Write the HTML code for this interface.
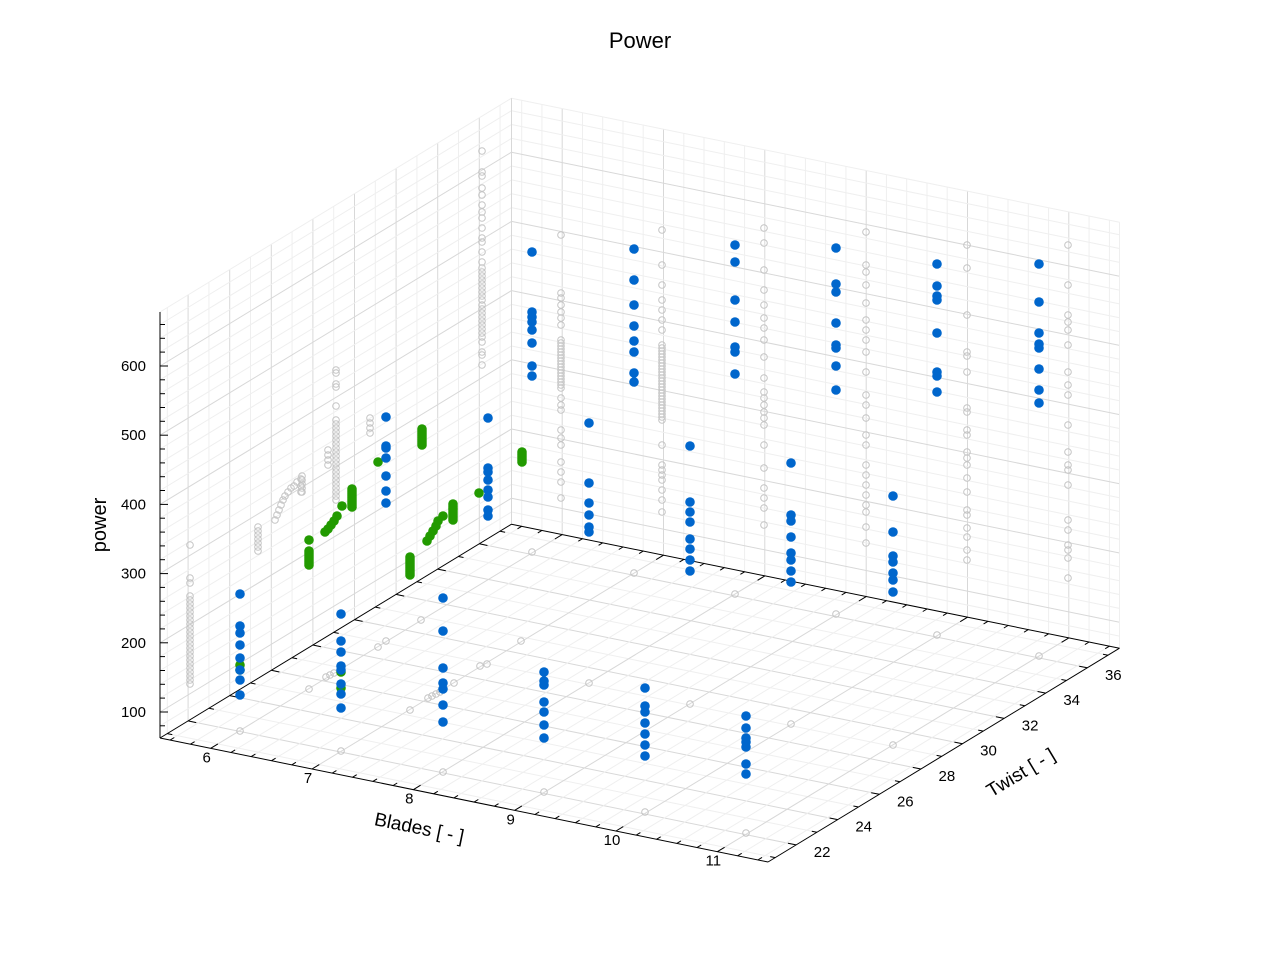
<!DOCTYPE html>
<html><head><meta charset="utf-8"><style>
html,body{margin:0;padding:0;background:#fff;}
svg{display:block;font-family:"Liberation Sans","DejaVu Sans",sans-serif;}
</style></head><body>
<svg id="s" width="1280" height="960" xmlns="http://www.w3.org/2000/svg">
<text x="640" y="48" font-size="22" text-anchor="middle" fill="#000">Power</text>
<text x="0" y="0" font-size="20" text-anchor="middle" transform="translate(106,525) rotate(-90)">power</text>
<text x="0" y="0" font-size="19" text-anchor="middle" transform="translate(418,834) rotate(11.5)">Blades [ - ]</text>
<text x="0" y="0" font-size="19" text-anchor="middle" transform="translate(1024,778) rotate(-31)">Twist [ - ]</text>
<g id="g"></g>
</svg>
<script>
var g=document.getElementById('g');
var b0=5.5,b1=11.5,t0=20.65,t1=37.55,p0=62.4,p1=678;
function P(b,t,p){return[160+(b-b0)*101.33+(t-t0)*20.8,738+(b-b0)*20.67-(t-t0)*12.65-(p-p0)*0.692];}
var out='';
function L(a,c,col,w){out+='<line x1="'+a[0].toFixed(1)+'" y1="'+a[1].toFixed(1)+'" x2="'+c[0].toFixed(1)+'" y2="'+c[1].toFixed(1)+'" stroke="'+col+'" stroke-width="'+(w||1)+'"/>';}
var mi='#efefef',ma='#d8d8d8';
var BL=[];for(var i=1;i<=30;i++){BL.push(Math.round((5.4+i*0.2)*10)/10);}
function isInt(b){return Math.abs(b-Math.round(b))<0.01;}
for(var t=21;t<=37;t++)L(P(b0,t,p0),P(b1,t,p0),t%2==0?ma:mi);
BL.forEach(function(b){L(P(b,t0,p0),P(b,t1,p0),isInt(b)?ma:mi);});
BL.forEach(function(b){L(P(b,t1,p0),P(b,t1,p1),isInt(b)?ma:mi);});
for(var p=80;p<=p1;p+=20)L(P(b0,t1,p),P(b1,t1,p),p%100==0?ma:mi);
L(P(b0,t1,p1),P(b1,t1,p1),mi);L(P(b1,t1,p0),P(b1,t1,p1),mi);
for(var t=21;t<=37;t++)L(P(b0,t,p0),P(b0,t,p1),t%2==0?ma:mi);
for(var p=80;p<=p1;p+=20)L(P(b0,t0,p),P(b0,t1,p),p%100==0?ma:mi);
L(P(b0,t0,p1),P(b0,t1,p1),mi);L(P(b0,t1,p0),P(b0,t1,p1),ma);
L(P(b0,t0,p0),P(b1,t0,p0),'#000');L(P(b1,t0,p0),P(b1,t1,p0),'#000');
L(P(b0,t0,p0),P(b0,t1,p0),'#000');L(P(b0,t1,p0),P(b1,t1,p0),'#000');
L(P(b0,t0,p0),P(b0,t0,p1),'#000');
for(var p=80;p<=p1;p+=20){var a=P(b0,t0,p);var len=p%100==0?8:5;L(a,[a[0]+len,a[1]],'#000');
 if(p%100==0)out+='<text x="146" y="'+(a[1]+5).toFixed(1)+'" font-size="15" text-anchor="end">'+p+'</text>';}
BL.forEach(function(b){var a=P(b,t0,p0);var mj=isInt(b);var k=mj?0.35:0.2;var c=P(b,t0+k,p0);L(a,c,'#000');
 if(mj)out+='<text x="'+(a[0]-4).toFixed(1)+'" y="'+(a[1]+14).toFixed(1)+'" font-size="15" text-anchor="middle">'+Math.round(b)+'</text>';
 var a2=P(b,t1,p0),c2=P(b,t1-k,p0);L(a2,c2,'#000');});
for(var t=21;t<=37;t++){var a=P(b1,t,p0);var mj=t%2==0;var c=P(b1-(mj?0.08:0.05),t,p0);L(a,c,'#000');
 if(mj)out+='<text x="'+(a[0]+26).toFixed(1)+'" y="'+(a[1]+12).toFixed(1)+'" font-size="15" text-anchor="middle">'+t+'</text>';
 var a2=P(b0,t,p0),c2=P(b0+(mj?0.08:0.05),t,p0);L(a2,c2,'#000');}
function gc(x,y){out+='<circle cx="'+x+'" cy="'+y+'" r="3.3" fill="none" stroke="#c4c4c4" stroke-width="1"/>';}
function col(x,ys){ys.forEach(function(y){gc(x,y);});}
function dense(x,a,b,s){for(var y=a;y<=b;y+=s)gc(x,y);}
col(190,[545,578,583]);dense(190,596,685,4);
dense(258,527,553,4);
[[275,520],[277,515],[279,510],[281,505],[283,500],[285,496],[288,492],[291,488],[294,486],[297,482],[301,479],[301,486],[301,492]].forEach(function(q){gc(q[0],q[1]);});
dense(302,476,495,4);dense(328,450,467,5);
col(336,[370,373,384,387,406]);dense(336,420,500,4);
dense(370,418,437,5);
col(482,[151,172,176,188,195,205,212,218,228,238,242,252,262,268]);dense(482,272,300,4);dense(482,305,340,4);col(482,[342,352,355,365]);
col(561,[235,293,298,305,312,318,325,398,405,410,430,438,445,462,472,482,498]);dense(561,340,390,3);
col(662,[230,265,285,300,310,320,330,445,465,470,475,480,490,500,512]);dense(662,345,420,3);
col(764,[228,243,270,290,305,318,328,340,357,378,392,398,405,412,418,425,445,468,488,498,508,525]);
col(866,[232,265,272,285,303,320,330,340,352,372,395,405,418,435,445,465,475,485,495,505,512,527,543]);
col(967,[245,268,315,352,356,372,408,412,430,435,452,458,465,478,492,510,515,528,537,550,560]);
col(1068,[245,285,315,322,330,345,372,385,395,425,452,465,470,485,520,530,545,550,558,578]);
[[532,552],[634,573],[735,594],[836,614],[937,635],[1039,656],[240,731],[341,751],[443,772],[544,792],[645,812],[746,833],[309,689],[410,710],[589,683],[690,704],[791,724],[893,745],[326,677],[330,675],[334,673],[378,647],[386,641],[421,620],[428,698],[432,696],[436,694],[440,692],[454,683],[480,666],[487,664],[521,641]].forEach(function(q){gc(q[0],q[1]);});
function fc(x,y,c){out+='<circle cx="'+x+'" cy="'+y+'" r="4.8" fill="'+c+'"/>';}
var G='#229a00',B='#0066cc';
function gcol(x,a,b){for(var y=a;y<=b;y+=2)fc(x,y,G);}
fc(240,665,G);fc(240,670,G);fc(341,672,G);fc(341,688,G);
fc(309,540,G);gcol(309,551,565);[[325,532],[328,529],[331,525],[334,521],[337,516]].forEach(function(q){fc(q[0],q[1],G);});
fc(342,506,G);gcol(352,489,507);fc(378,462,G);gcol(422,429,446);
gcol(410,557,575);[[427,541],[430,536],[433,531],[436,526],[438,521]].forEach(function(q){fc(q[0],q[1],G);});
fc(443,516,G);gcol(453,504,521);fc(479,493,G);gcol(522,452,462);
function bcol(x,ys){ys.forEach(function(y){fc(x,y,B);});}
bcol(240,[594,626,633,645,658,670,680,695]);
bcol(341,[614,641,652,666,670,684,694,708]);
bcol(443,[598,631,668,683,689,705,722]);
bcol(544,[672,681,685,702,712,725,738]);
bcol(645,[688,706,712,723,734,745,756]);
bcol(746,[716,728,738,742,747,764,774]);
bcol(386,[417,446,448,458,476,491,503]);
bcol(488,[418,468,472,480,490,497,510,516]);
bcol(589,[423,483,503,515,527,532]);
bcol(690,[446,502,512,522,539,549,560,571]);
bcol(791,[463,515,521,537,553,560,571,582]);
bcol(893,[496,532,556,562,573,580,592]);
bcol(532,[252,312,317,322,330,343,366,376]);
bcol(634,[249,280,305,326,341,352,373,382]);
bcol(735,[245,262,300,322,347,352,374]);
bcol(836,[248,284,292,323,345,348,366,390]);
bcol(937,[264,286,296,300,333,372,376,392]);
bcol(1039,[264,302,333,344,348,369,390,403]);
g.innerHTML=out;
</script>
</body></html>
